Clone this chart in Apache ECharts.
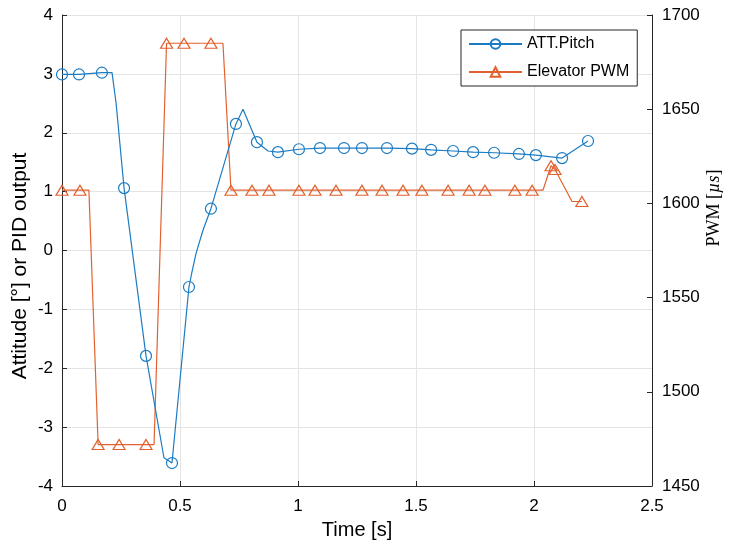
<!DOCTYPE html>
<html>
<head>
<meta charset="utf-8">
<script src="https://cdn.jsdelivr.net/npm/echarts@6/dist/echarts.min.js"></script>
<style>
  html, body { margin: 0; padding: 0; background: #fff; }
  #chart { width: 729px; height: 548px; }
</style>
</head>
<body>
<div id="chart"></div>
<script>
// ATT.Pitch (left axis, deg); mark = 1 where a circle is drawn
var pitchTime  = [0, 0.072, 0.169, 0.212, 0.229, 0.263, 0.356, 0.432, 0.466, 0.538, 0.551, 0.568, 0.597, 0.631, 0.737, 0.767, 0.826, 0.873, 0.915,
                  1.004, 1.093, 1.195, 1.271, 1.377, 1.483, 1.564, 1.657, 1.742, 1.831, 1.936, 2.008, 2.119, 2.229];
var pitchValue = [2.99, 2.99, 3.02, 3.02, 2.51, 1.06, -1.79, -3.52, -3.61, -0.62, -0.36, -0.05, 0.34, 0.71, 2.15, 2.40, 1.84, 1.69, 1.67,
                  1.72, 1.74, 1.74, 1.74, 1.74, 1.73, 1.71, 1.69, 1.67, 1.66, 1.64, 1.62, 1.57, 1.86];
var pitchMark  = [1, 1, 1, 0, 0, 1, 1, 0, 1, 1, 0, 0, 0, 1, 1, 0, 1, 0, 1,
                  1, 1, 1, 1, 1, 1, 1, 1, 1, 1, 1, 1, 1, 1];

// Elevator PWM (right axis, us); mark = 1 where a triangle is drawn
var pwmTime  = [0, 0.076, 0.114, 0.153, 0.242, 0.356, 0.390, 0.443, 0.517, 0.631, 0.682, 0.716, 0.805, 0.877, 1.004, 1.072,
                1.161, 1.271, 1.356, 1.445, 1.525, 1.636, 1.725, 1.792, 1.919, 1.992, 2.038, 2.072, 2.089, 2.161, 2.203];
var pwmValue = [1607, 1607, 1607, 1472, 1472, 1472, 1472, 1685, 1685, 1685, 1685, 1607, 1607, 1607, 1607, 1607,
                1607, 1607, 1607, 1607, 1607, 1607, 1607, 1607, 1607, 1607, 1607, 1620, 1618, 1601, 1601];
var pwmMark  = [1, 1, 0, 1, 1, 1, 0, 1, 1, 1, 0, 1, 1, 1, 1, 1,
                1, 1, 1, 1, 1, 1, 1, 1, 1, 1, 0, 1, 1, 0, 1];

var blue = '#1b7cc3';
var orange = '#e2622f';
var axisColor = '#262626';
var gridColor = '#e4e4e4';
var sans = 'Liberation Sans, Arial, sans-serif';
var serif = 'Liberation Serif, Times New Roman, serif';

function toData(t, v, m) {
  return t.map(function (x, i) {
    var d = { value: [x, v[i]] };
    if (!m[i]) d.symbol = 'none';
    return d;
  });
}

function plain(v) { return String(v); }

var chart = echarts.init(document.getElementById('chart'), null, { renderer: 'canvas' });

var option = {
  backgroundColor: '#fff',
  animation: false,
  grid: { left: 62, top: 15, width: 590, height: 471, containLabel: false },
  legend: {
    orient: 'vertical',
    left: 461, top: 30,
    width: 176,
    padding: [6, 8, 6, 7],
    itemWidth: 53, itemHeight: 12, itemGap: 12,
    backgroundColor: '#fff',
    borderColor: axisColor, borderWidth: 1, borderRadius: 0,
    textStyle: { fontFamily: sans, fontSize: 16, color: '#000' },
    data: ['ATT.Pitch', 'Elevator PWM'],
    selectedMode: false
  },
  xAxis: {
    type: 'value',
    min: 0, max: 2.5, interval: 0.5,
    name: 'Time [s]',
    nameLocation: 'middle',
    nameGap: 34,
    nameTextStyle: { fontFamily: sans, fontSize: 20, color: '#000' },
    axisLine: { show: true, onZero: false, lineStyle: { color: axisColor, width: 1 } },
    axisTick: { show: true, inside: true, length: 5, lineStyle: { color: axisColor } },
    axisLabel: { fontFamily: sans, fontSize: 17, color: '#000', margin: 12, formatter: plain },
    splitLine: { show: true, lineStyle: { color: gridColor, width: 1 } }
  },
  yAxis: [
    {
      type: 'value',
      position: 'left',
      min: -4, max: 4, interval: 1,
      axisLine: { show: true, onZero: false, lineStyle: { color: axisColor, width: 1 } },
      axisTick: { show: true, inside: true, length: 5, lineStyle: { color: axisColor } },
      axisLabel: { fontFamily: sans, fontSize: 17, color: '#000', margin: 9, formatter: plain },
      splitLine: { show: true, lineStyle: { color: gridColor, width: 1 } }
    },
    {
      type: 'value',
      position: 'right',
      min: 1450, max: 1700, interval: 50,
      axisLine: { show: true, onZero: false, lineStyle: { color: axisColor, width: 1 } },
      axisTick: { show: true, inside: true, length: 5, lineStyle: { color: axisColor } },
      axisLabel: { fontFamily: sans, fontSize: 17, color: '#000', margin: 10, formatter: plain },
      splitLine: { show: false }
    }
  ],
  series: [
    {
      name: 'ATT.Pitch',
      type: 'line',
      yAxisIndex: 0,
      data: toData(pitchTime, pitchValue, pitchMark),
      symbol: 'circle',
      symbolSize: 11,
      showAllSymbol: true,
      lineStyle: { color: blue, width: 1.2 },
      itemStyle: { color: 'rgba(255,255,255,0)', borderColor: blue, borderWidth: 1.2 },
      emphasis: { disabled: true },
      z: 3
    },
    {
      name: 'Elevator PWM',
      type: 'line',
      yAxisIndex: 1,
      data: toData(pwmTime, pwmValue, pwmMark),
      symbol: 'triangle',
      symbolSize: [12, 10],
      showAllSymbol: true,
      lineStyle: { color: orange, width: 1.2 },
      itemStyle: { color: 'rgba(255,255,255,0)', borderColor: orange, borderWidth: 1.2 },
      emphasis: { disabled: true },
      z: 2
    }
  ],
  graphic: [
    {
      type: 'text',
      x: 20, y: 266,
      rotation: Math.PI / 2,
      style: {
        text: 'Attitude [°] or PID output',
        font: '21px Liberation Sans, Arial, sans-serif',
        fill: '#000',
        textAlign: 'center',
        textVerticalAlign: 'middle'
      }
    },
    {
      type: 'text',
      x: 714, y: 208,
      rotation: Math.PI / 2,
      style: {
        text: '{a|PWM [}{b|µs}{a|]}',
        textAlign: 'center',
        textVerticalAlign: 'middle',
        rich: {
          a: { fontFamily: serif, fontSize: 18, fill: '#000' },
          b: { fontFamily: serif, fontSize: 18, fontStyle: 'italic', fill: '#000' }
        }
      }
    }
  ]
};

chart.setOption(option);
</script>
</body>
</html>
